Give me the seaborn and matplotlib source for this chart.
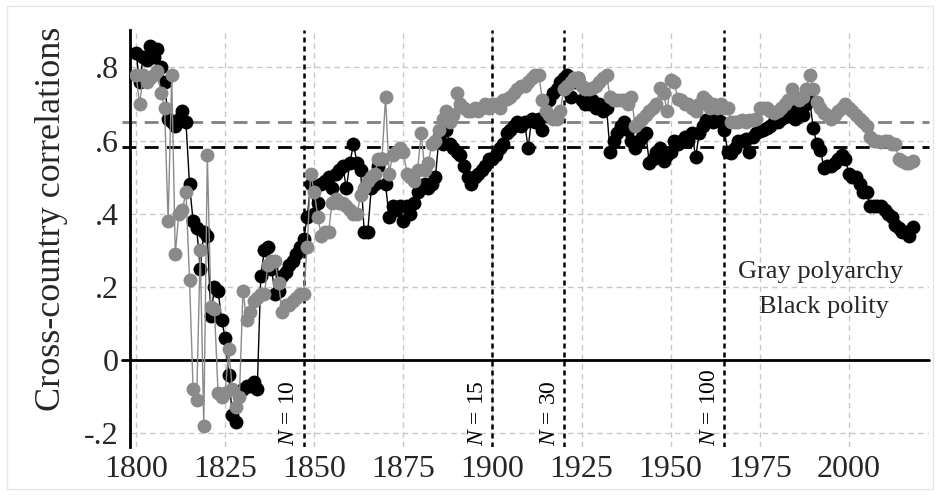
import numpy as np
import pandas as pd
import matplotlib
matplotlib.use("Agg")
import matplotlib.pyplot as plt
import seaborn as sns

years = list(range(1800, 2019))

polity = [
    .84, .76, .83, .82, .86, .83, .85, .80, .76, .66,   # 1800-1809
    .65, .64, .66, .68, .65, .48, .38, .36, .25, .35,   # 1810-1819
    .34, .12, .20, .19, .11, .06, -.04, -.15, -.17, -.09,  # 1820-1829
    -.08, -.07, -.07, -.06, -.08, .23, .30, .31, .25, .18,  # 1830-1839
    .19, .23, .24, .26, .27, .29, .31, .33, .39, .48,   # 1840-1849
    .40, .43, .48, .49, .50, .47, .51, .52, .53, .47,   # 1850-1859
    .54, .59, .54, .52, .35, .35, .47, .48, .53, .55,   # 1860-1869
    .48, .39, .42, .41, .42, .38, .42, .40, .43, .46,   # 1870-1879
    .47, .48, .47, .48, .50, .61, .59, .63, .59, .58,   # 1880-1889
    .57, .56, .53, .50, .48, .50, .51, .52, .53, .55,   # 1890-1899
    .55, .56, .58, .59, .62, .63, .64, .65, .64, .65,   # 1900-1909
    .58, .66, .65, .66, .63, .67, .71, .73, .74, .76,   # 1910-1919
    .77, .78, .72, .76, .77, .71, .70, .70, .71, .69,   # 1920-1929
    .70, .68, .69, .57, .60, .62, .64, .65, .63, .60,   # 1930-1939
    .58, .60, .61, .62, .54, .55, .57, .58, .545, .56,  # 1940-1949
    .57, .60, .59, .60, .61, .60, .62, .555, .62, .64,  # 1950-1959
    .655, .66, .65, .66, .65, .63, .57, .565, .58, .60,  # 1960-1969
    .60, .605, .57, .61, .62, .625, .63, .635, .64, .65,  # 1970-1979
    .65, .66, .665, .68, .69, .66, .68, .67, .70, .71,  # 1980-1989
    .635, .59, .575, .525, .53, .53, .54, .55, .56, .55,  # 1990-1999
    .51, .50, .50, .48, .46, .46, .42, .42, .42, .42,   # 2000-2009
    .41, .40, .39, .37, .36, .35, .35, .34, .365,       # 2010-2018
]

polyarchy = [
    .78, .70, .78, .76, .77, .78, .79, .73, .69, .38,   # 1800-1809
    .78, .29, .40, .41, .46, .22, -.08, -.11, .30, -.18,  # 1810-1819
    .56, .145, .14, -.09, -.10, -.09, .03, -.08, -.13, -.10,  # 1820-1829
    .19, .11, .13, .16, .17, .18, .18, .26, .27, .27,   # 1830-1839
    .21, .13, .15, .15, .16, .17, .18, .18, .31, .51,   # 1840-1849
    .46, .39, .34, .35, .35, .43, .44, .43, .43, .42,   # 1850-1859
    .41, .40, .40, .45, .47, .49, .50, .51, .55, .55,   # 1860-1869
    .72, .51, .56, .57, .58, .57, .51, .50, .49, .52,   # 1870-1879
    .62, .52, .54, .59, .60, .63, .66, .68, .65, .67,   # 1880-1889
    .73, .70, .69, .68, .68, .69, .68, .69, .70, .69,   # 1890-1899
    .70, .70, .69, .71, .715, .72, .73, .74, .75, .75,  # 1900-1909
    .76, .77, .78, .78, .71, .68, .67, .66, .66, .68,   # 1910-1919
    .74, .75, .76, .77, .77, .75, .74, .74, .745, .75,  # 1920-1929
    .76, .77, .78, .72, .71, .71, .71, .71, .70, .72,   # 1930-1939
    .64, .65, .66, .67, .68, .69, .70, .745, .73, .68,  # 1940-1949
    .765, .76, .715, .71, .70, .70, .69, .68, .70, .72,  # 1950-1959
    .71, .69, .70, .69, .70, .69, .69, .65, .65, .65,   # 1960-1969
    .655, .65, .655, .655, .66, .69, .69, .69, .68, .675,  # 1970-1979
    .68, .69, .70, .71, .74, .72, .71, .72, .74, .78,   # 1980-1989
    .74, .705, .69, .675, .67, .66, .67, .68, .69, .70,  # 1990-1999
    .69, .68, .67, .66, .65, .64, .61, .60, .60, .595,  # 2000-2009
    .60, .60, .59, .59, .55, .545, .54, .54, .545,      # 2010-2018
]

mean_polity = 0.582
mean_polyarchy = 0.650

threshold_years = [1847, 1900, 1920, 1965]
threshold_labels = ["10", "15", "30", "100"]

x_ticks = [1800, 1825, 1850, 1875, 1900, 1925, 1950, 1975, 2000]
y_ticks = [-0.2, 0, 0.2, 0.4, 0.6, 0.8]
y_tick_labels = ["-.2", "0", ".2", ".4", ".6", ".8"]

sns.set_theme(style="white")
plt.rcParams["font.family"] = ["Liberation Serif", "DejaVu Serif"]
plt.rcParams["mathtext.fontset"] = "custom"
plt.rcParams["mathtext.it"] = "Liberation Serif:italic"
plt.rcParams["mathtext.rm"] = "Liberation Serif"

df = pd.DataFrame({"year": years, "polity": polity, "polyarchy": polyarchy})

fig = plt.figure(figsize=(9.4, 4.95), dpi=100)
ax = fig.add_axes([0.1383, 0.097, 0.988 - 0.1383, 0.939 - 0.097])

# grid
for xv in x_ticks:
    ax.axvline(xv, color="#c8c8c8", lw=1.0, ls=(0, (4, 3)), zorder=0)
for yv in y_ticks:
    if yv != 0:
        ax.axhline(yv, color="#c8c8c8", lw=1.0, ls=(0, (4, 3)), zorder=0)

# reference lines
ax.plot([-0.01, 1], [0, 0], transform=ax.get_yaxis_transform(), color="black",
        lw=2.0, clip_on=False, zorder=1)
ax.plot([-0.01, 1], [mean_polyarchy] * 2, transform=ax.get_yaxis_transform(),
        color="#808080", lw=2.0, ls=(0, (5, 3)), clip_on=False, zorder=1)
ax.plot([-0.01, 1], [mean_polity] * 2, transform=ax.get_yaxis_transform(),
        color="black", lw=2.0, ls=(0, (5, 3)), clip_on=False, zorder=1)

for yr, lab in zip(threshold_years, threshold_labels):
    ax.axvline(yr, color="black", lw=1.8, ls=(0, (2, 1.6)), zorder=1)
    ax.annotate(r"$N$ = " + lab, xy=(yr, -0.238), xytext=(-3, 1),
                textcoords="offset points", rotation=90, ha="right", va="bottom",
                fontsize=17, color="black")

sns.lineplot(data=df, x="year", y="polity", ax=ax, color="black", lw=1.0,
             marker="o", markersize=10, markeredgewidth=0, zorder=3)
sns.lineplot(data=df, x="year", y="polyarchy", ax=ax, color="#8a8a8a", lw=1.0,
             marker="o", markersize=10, markeredgewidth=0, zorder=4)

ax.set_xlim(1798.3, 2022.4)
ax.set_ylim(-0.238, 0.902)
ax.set_xticks(x_ticks)
ax.set_xticklabels([str(v) for v in x_ticks])
ax.set_yticks(y_ticks)
ax.set_yticklabels(y_tick_labels)
ax.tick_params(axis="x", length=0, pad=6, labelsize=23)
ax.tick_params(axis="y", length=5, width=1, color="#b0b0b0", pad=3, labelsize=23)
ax.set_xlabel("")
ax.set_ylabel("Cross-country correlations", fontsize=26)
ax.yaxis.set_label_coords(-0.078, 0.548)

for s in ["top", "right", "bottom"]:
    ax.spines[s].set_visible(False)
ax.spines["left"].set_color("black")
ax.spines["left"].set_linewidth(2.0)

ax.text(0.865, 0.42, "Gray polyarchy", transform=ax.transAxes, ha="center",
        va="center", fontsize=19)
ax.text(0.869, 0.335, "Black polity", transform=ax.transAxes, ha="center",
        va="center", fontsize=19)

fig.patches.append(plt.Rectangle((0.007, 0.012), 0.986, 0.976, transform=fig.transFigure,
                                 fill=False, edgecolor="#e3e7ea", lw=1.0))

fig.savefig("out.png", dpi=100)
